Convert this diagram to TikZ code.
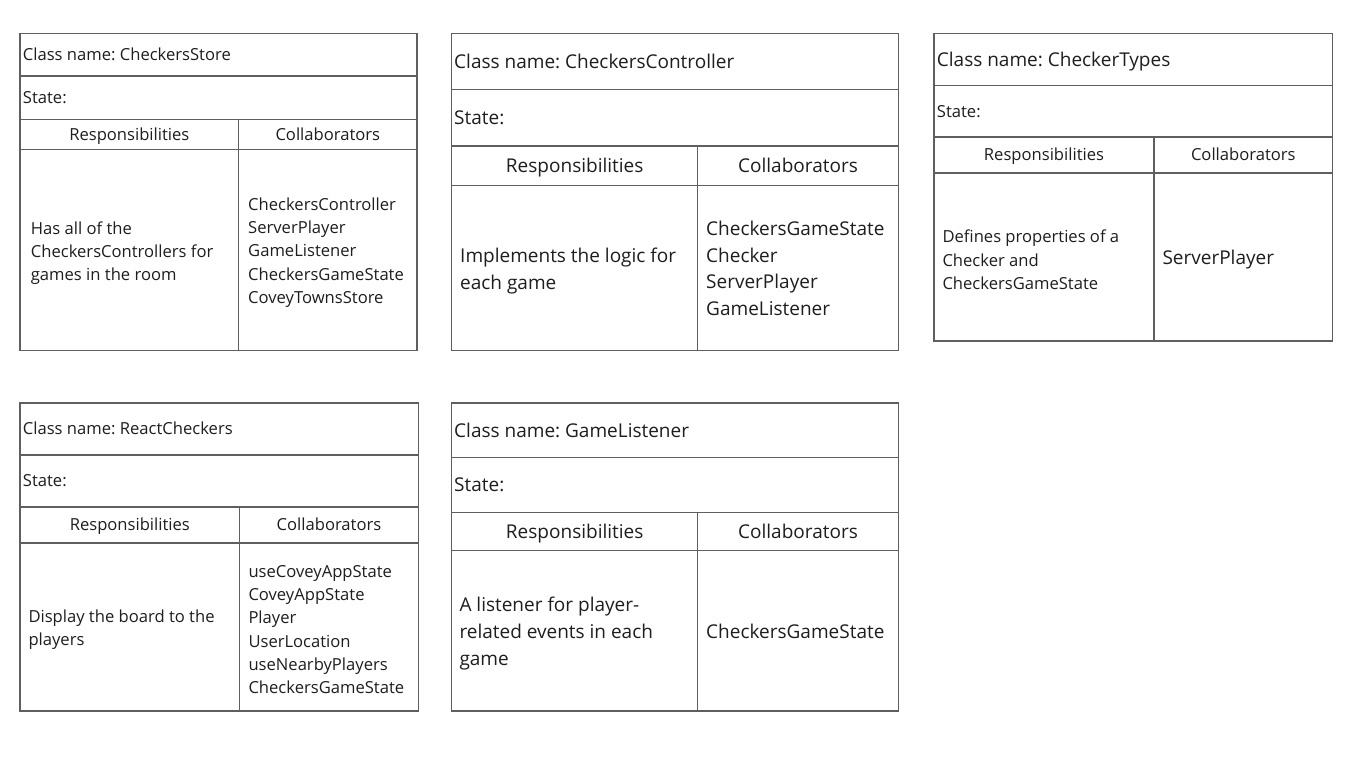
\documentclass[tikz,border=0pt]{standalone}
\usepackage{fontspec}
\setmainfont{Open Sans}
\frenchspacing
\definecolor{ln}{RGB}{95,95,95}
\definecolor{tx}{RGB}{30,30,30}
\tikzset{
 cell/.style={draw=ln, line width=1.3pt},
 txt/.style={anchor=west, inner sep=0pt, align=left, text=tx},
 hdr/.style={inner sep=0pt, text=tx},
 sm/.style={font=\fontsize{16.6}{23.3}\selectfont},
 lg/.style={font=\fontsize{19}{26.7}\selectfont},
 onesm/.style={text height=11.9pt, text depth=0pt},
 onelg/.style={text height=13.6pt, text depth=0pt},
}
\begin{document}
\begin{tikzpicture}[x=1pt,y=-1pt]
\useasboundingbox[fill=white] (0,0) rectangle (1351,760);

% Box 1: CheckersStore
\draw[cell] (20,33.3) rectangle (417,350.7);
\draw[cell] (20,76) -- (417,76);
\draw[cell] (20,119.3) -- (417,119.3);
\draw[cell] (20,149.3) -- (417,149.3);
\draw[cell] (238.7,119.3) -- (238.7,350.7);
\node[txt,sm,onesm] (t1) at (22.7,54.7) {Class name: CheckersStore};
\node[txt,sm,onesm] (s1) at (22.7,97.7) {State:};
\node[hdr,sm,onesm] (r1) at (129.3,134.3) {Responsibilities};
\node[hdr,sm,onesm] (c1) at (327.8,134.3) {Collaborators};
\node[txt,sm] (rb1) at (30.7,253) {Has all of the\\CheckersControllers for\\games in the room};
\node[txt,sm] (cb1) at (248,252.5) {CheckersController\\ServerPlayer\\GameListener\\CheckersGameState\\CoveyTownsStore};

% Box 2: CheckersController
\draw[cell] (451.7,33.3) rectangle (898.3,350.7);
\draw[cell] (451.7,89.3) -- (898.3,89.3);
\draw[cell] (451.7,146) -- (898.3,146);
\draw[cell] (451.7,185.3) -- (898.3,185.3);
\draw[cell] (697.7,146) -- (697.7,350.7);
\node[txt,lg,onelg] (t2) at (454,61.3) {Class name: CheckersController};
\node[txt,lg,onelg] (s2) at (454,117.7) {State:};
\node[hdr,lg,onelg] (r2) at (574.7,165.7) {Responsibilities};
\node[hdr,lg,onelg] (c2) at (798,165.7) {Collaborators};
\node[txt,lg] (rb2) at (460,271) {Implements the logic for\\each game};
\node[txt,lg] (cb2) at (706,268.5) {CheckersGameState\\Checker\\ServerPlayer\\GameListener};

% Box 3: CheckerTypes
\draw[cell] (934,33.3) rectangle (1332.7,341);
\draw[cell] (934,85.3) -- (1332.7,85.3);
\draw[cell] (934,137) -- (1332.7,137);
\draw[cell] (934,173) -- (1332.7,173);
\draw[cell] (1154,137) -- (1154,341);
\node[txt,lg,onelg] (t3) at (936.7,59.3) {Class name: CheckerTypes};
\node[txt,sm,onesm] (s3) at (936.7,111.2) {State:};
\node[hdr,sm,onesm] (r3) at (1044,155) {Responsibilities};
\node[hdr,sm,onesm] (c3) at (1243.3,155) {Collaborators};
\node[txt,sm] (rb3) at (942.3,260) {Defines properties of a\\Checker and\\CheckersGameState};
\node[txt,lg,onelg] (cb3) at (1162.3,258) {ServerPlayer};

% Box 4: ReactCheckers
\draw[cell] (20,403) rectangle (418.3,711);
\draw[cell] (20,455) -- (418.3,455);
\draw[cell] (20,507) -- (418.3,507);
\draw[cell] (20,543) -- (418.3,543);
\draw[cell] (239.7,507) -- (239.7,711);
\node[txt,sm,onesm] (t4) at (22.7,429) {Class name: ReactCheckers};
\node[txt,sm,onesm] (s4) at (22.7,481) {State:};
\node[hdr,sm,onesm] (r4) at (129.8,525) {Responsibilities};
\node[hdr,sm,onesm] (c4) at (329,525) {Collaborators};
\node[txt,sm] (rb4) at (28.3,630) {Display the board to the\\players};
\node[txt,sm] (cb4) at (248.3,629.5) {useCoveyAppState\\CoveyAppState\\Player\\UserLocation\\useNearbyPlayers\\CheckersGameState};

% Box 5: GameListener
\draw[cell] (451.7,403) rectangle (898.3,711);
\draw[cell] (451.7,457.3) -- (898.3,457.3);
\draw[cell] (451.7,512.3) -- (898.3,512.3);
\draw[cell] (451.7,550.3) -- (898.3,550.3);
\draw[cell] (697.7,512.3) -- (697.7,711);
\node[txt,lg,onelg] (t5) at (454,430.2) {Class name: GameListener};
\node[txt,lg,onelg] (s5) at (454,484.8) {State:};
\node[hdr,lg,onelg] (r5) at (574.7,531.3) {Responsibilities};
\node[hdr,lg,onelg] (c5) at (798,531.3) {Collaborators};
\node[txt,lg] (rb5) at (459.3,633.5) {A listener for player-\\related events in each\\game};
\node[txt,lg,onelg] (cb5) at (706,632) {CheckersGameState};
\end{tikzpicture}
\end{document}
